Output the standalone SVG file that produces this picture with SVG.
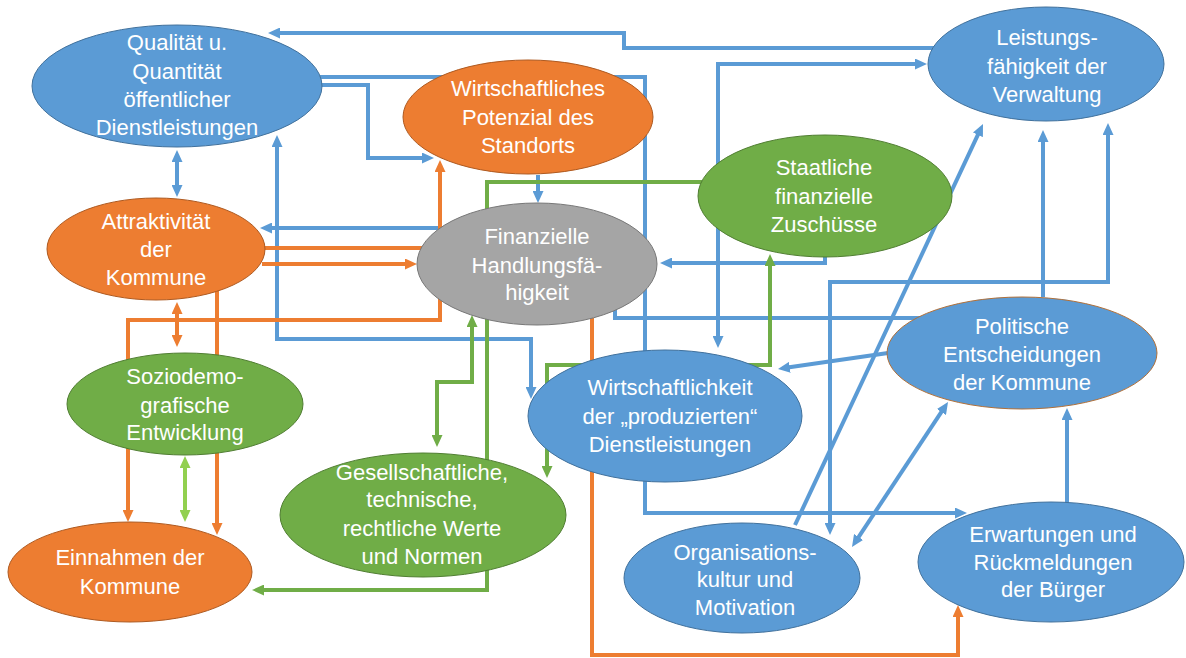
<svg xmlns="http://www.w3.org/2000/svg" width="1186" height="658" viewBox="0 0 1186 658">
<style>
.c{fill:none;stroke-width:4;stroke-linejoin:miter}
.b{stroke:#5B9BD5}.o{stroke:#ED7D31}.g{stroke:#70AD47}.lg{stroke:#92D050}
.nb{fill:#5B9BD5;stroke:#41719C;stroke-width:1}
.no{fill:#ED7D31;stroke:#AE5A21;stroke-width:1}
.ng{fill:#70AD47;stroke:#507E32;stroke-width:1}
.ny{fill:#A5A5A5;stroke:#787878;stroke-width:1}
text{font-family:"Liberation Sans",Arial,sans-serif;font-size:22px;fill:#FFFFFF;text-anchor:middle}
</style>
<defs>
<marker id="ab" viewBox="0 0 12 11" refX="4" refY="5.5" markerWidth="12" markerHeight="11" markerUnits="userSpaceOnUse" orient="auto-start-reverse"><path d="M0,0 L12,5.5 L0,11 z" fill="#5B9BD5"/></marker>
<marker id="ao" viewBox="0 0 12 11" refX="4" refY="5.5" markerWidth="12" markerHeight="11" markerUnits="userSpaceOnUse" orient="auto-start-reverse"><path d="M0,0 L12,5.5 L0,11 z" fill="#ED7D31"/></marker>
<marker id="ag" viewBox="0 0 12 11" refX="4" refY="5.5" markerWidth="12" markerHeight="11" markerUnits="userSpaceOnUse" orient="auto-start-reverse"><path d="M0,0 L12,5.5 L0,11 z" fill="#70AD47"/></marker>
<marker id="alg" viewBox="0 0 12 11" refX="4" refY="5.5" markerWidth="12" markerHeight="11" markerUnits="userSpaceOnUse" orient="auto-start-reverse"><path d="M0,0 L12,5.5 L0,11 z" fill="#92D050"/></marker>
</defs>
<rect width="1186" height="658" fill="#FFFFFF"/>
<g id="connectors">
<path class="c b" d="M935,48 H624 V33 H276" marker-end="url(#ab)"/>
<path class="c b" d="M320,77 H645 V513 H959" marker-end="url(#ab)"/>
<path class="c b" d="M320,85 H368 V158 H426" marker-end="url(#ab)"/>
<path class="c b" d="M177,158 V189" marker-start="url(#ab)" marker-end="url(#ab)"/>
<path class="c b" d="M440,228 H268" marker-end="url(#ab)"/>
<path class="c b" d="M277,143 V339 H531 V391" marker-start="url(#ab)" marker-end="url(#ab)"/>
<path class="c b" d="M538,175 V195" marker-end="url(#ab)"/>
<path class="c b" d="M825,255 V263 H668" marker-end="url(#ab)"/>
<path class="c b" d="M718,340 V64 H919" marker-start="url(#ab)" marker-end="url(#ab)"/>
<path class="c b" d="M615,305 V318 H930"/>
<path class="c b" d="M795,525 L979.6,131.2" marker-end="url(#ab)"/>
<path class="c b" d="M1043,297 V138" marker-end="url(#ab)"/>
<path class="c b" d="M830,527 V282 H1108 V131" marker-start="url(#ab)" marker-end="url(#ab)"/>
<path class="c b" d="M888,353 L785.9,367.8" marker-end="url(#ab)"/>
<path class="c b" d="M943.6,408.7 L856.4,540.3" marker-start="url(#ab)" marker-end="url(#ab)"/>
<path class="c b" d="M1067,503 V416" marker-end="url(#ab)"/>
<path class="c o" d="M262,248 H440"/>
<path class="c o" d="M440,320 V168" marker-end="url(#ao)"/>
<path class="c o" d="M442,320 H128 V514" marker-end="url(#ao)"/>
<path class="c o" d="M262,264 H409" marker-end="url(#ao)"/>
<path class="c o" d="M217,290 V527" marker-end="url(#ao)"/>
<path class="c o" d="M177,310 V339" marker-start="url(#ao)" marker-end="url(#ao)"/>
<path class="c o" d="M592,318 V655 H958 V613" marker-end="url(#ao)"/>
<path class="c g" d="M702,182 H487 V590 H260" marker-end="url(#ag)"/>
<path class="c g" d="M472,323 V382 H437 V439" marker-start="url(#ag)" marker-end="url(#ag)"/>
<path class="c g" d="M547,470 V365 H770 V262" marker-start="url(#ag)" marker-end="url(#ag)"/>
<path class="c lg" d="M185,464 V514" marker-start="url(#alg)" marker-end="url(#alg)"/>
</g>
<g id="n-qualitaet"><ellipse class="nb" cx="177" cy="86" rx="145" ry="61"/><text x="177" y="50">Qualität u.</text><text x="177" y="79">Quantität</text><text x="177" y="107">öffentlicher</text><text x="177" y="135">Dienstleistungen</text></g>
<g id="n-attraktivitaet"><ellipse class="no" cx="156" cy="249" rx="109" ry="51"/><text x="156" y="229">Attraktivität</text><text x="156" y="257">der</text><text x="156" y="285">Kommune</text></g>
<g id="n-potenzial"><ellipse class="no" cx="528" cy="117" rx="125" ry="57"/><text x="528" y="96">Wirtschaftliches</text><text x="528" y="125">Potenzial des</text><text x="528" y="153">Standorts</text></g>
<g id="n-finanzielle"><ellipse class="ny" cx="537" cy="264" rx="120" ry="61"/><text x="537" y="244">Finanzielle</text><text x="537" y="273">Handlungsfä-</text><text x="537" y="300">higkeit</text></g>
<g id="n-zuschuesse"><ellipse class="ng" cx="825" cy="196" rx="127" ry="61"/><text x="824" y="175">Staatliche</text><text x="824" y="204">finanzielle</text><text x="824" y="232">Zuschüsse</text></g>
<g id="n-leistung"><ellipse class="nb" cx="1046" cy="64" rx="118" ry="57"/><text x="1047" y="45">Leistungs-</text><text x="1047" y="74">fähigkeit der</text><text x="1047" y="102">Verwaltung</text></g>
<g id="n-politische"><ellipse class="nb" cx="1022" cy="353" rx="135" ry="56" style="stroke:#B0703A"/><text x="1022" y="334">Politische</text><text x="1022" y="362">Entscheidungen</text><text x="1022" y="390">der Kommune</text></g>
<g id="n-wirtschaftlichkeit"><ellipse class="nb" cx="665" cy="416" rx="137" ry="66"/><text x="670" y="395">Wirtschaftlichkeit</text><text x="670" y="424">der „produzierten“</text><text x="670" y="452">Dienstleistungen</text></g>
<g id="n-sozio"><ellipse class="ng" cx="185" cy="404" rx="118" ry="51"/><text x="185" y="384">Soziodemo-</text><text x="185" y="413">grafische</text><text x="185" y="440">Entwicklung</text></g>
<g id="n-werte"><ellipse class="ng" cx="423" cy="515" rx="143" ry="62"/><text x="422" y="480">Gesellschaftliche,</text><text x="422" y="507">technische,</text><text x="422" y="536">rechtliche Werte</text><text x="422" y="564">und Normen</text></g>
<g id="n-einnahmen"><ellipse class="no" cx="130" cy="572" rx="122" ry="50"/><text x="130" y="565">Einnahmen der</text><text x="130" y="594">Kommune</text></g>
<g id="n-organisation"><ellipse class="nb" cx="742" cy="578" rx="118" ry="55"/><text x="745" y="560">Organisations-</text><text x="745" y="587">kultur und</text><text x="745" y="615">Motivation</text></g>
<g id="n-erwartungen"><ellipse class="nb" cx="1051" cy="562" rx="133" ry="60"/><text x="1053" y="542">Erwartungen und</text><text x="1053" y="570">Rückmeldungen</text><text x="1053" y="597">der Bürger</text></g>
</svg>
